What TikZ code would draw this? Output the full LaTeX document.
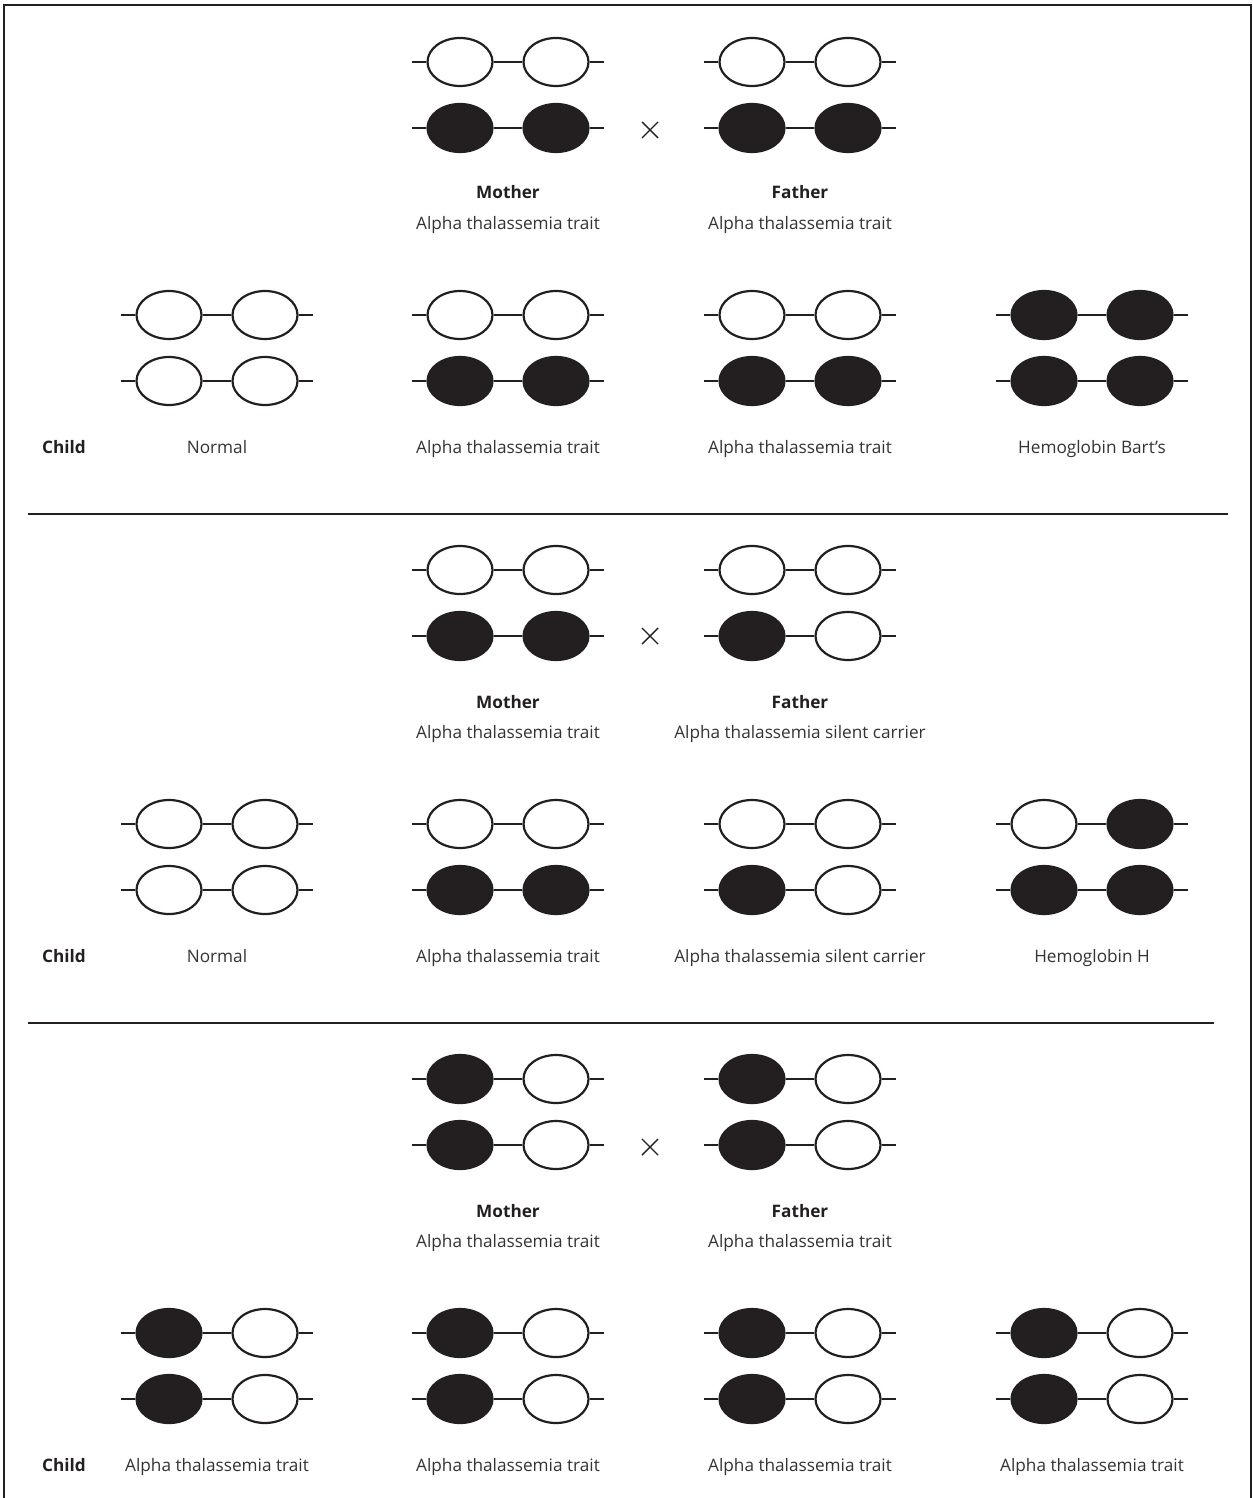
\documentclass[tikz,border=0pt]{standalone}
\usepackage{fontspec}
\setmainfont{Open Sans}
\usetikzlibrary{shapes.geometric}
\definecolor{ink}{HTML}{231F20}
\definecolor{txt}{HTML}{333333}
\tikzset{
  gene/.style={ellipse, draw=ink, line width=1.1pt, minimum width=32.5pt, minimum height=24pt, inner sep=0pt},
  W/.style={gene, fill=white},
  B/.style={gene, fill=ink},
  chrom/.style={draw=ink, line width=1.1pt},
  lbl/.style={anchor=base, text=txt, font=\fontsize{8.6pt}{10pt}\selectfont, inner sep=0pt},
  blbl/.style={lbl, text=ink, font=\fontsize{8.6pt}{10pt}\selectfont\bfseries},
  frame/.style={draw=ink, line width=0.9pt},
  divider/.style={draw=ink, line width=0.9pt},
  cross/.style={draw=ink, line width=0.7pt}
}
% \chromo{name}{cx}{cy}{styleL}{styleR}
\newcommand{\chromo}[5]{%
  \coordinate (#1-l) at (#2-96,#3);
  \coordinate (#1-r) at (#2+96,#3);
  \node[#4] (#1-a) at (#2-48,#3) {};
  \node[#5] (#1-b) at (#2+48,#3) {};
  \draw[chrom] (#1-l) -- (#1-a) -- (#1-b) -- (#1-r);
}
% \geno{name}{cx}{ytop}{L1}{R1}{L2}{R2}
\newcommand{\geno}[7]{%
  \chromo{#1-1}{#2}{#3}{#4}{#5}
  \chromo{#1-2}{#2}{#3+66}{#6}{#7}
}
\begin{document}
\begin{tikzpicture}[x=0.5pt,y=-0.5pt]
\useasboundingbox (0,0) rectangle (1252,1498);
% frame
\coordinate (f1) at (4,1498);
\coordinate (f2) at (4,5);
\coordinate (f3) at (1251,5);
\coordinate (f4) at (1251,1498);
\draw[frame] (f1) -- (f2) -- (f3) -- (f4);
% dividers
\coordinate (d1a) at (28,514);
\coordinate (d1b) at (1228,514);
\draw[divider] (d1a) -- (d1b);
\coordinate (d2a) at (28,1023);
\coordinate (d2b) at (1214,1023);
\draw[divider] (d2a) -- (d2b);

% ===== Section 1 =====
\geno{m1}{508}{62}{W}{W}{B}{B}
\geno{f1g}{800}{62}{W}{W}{B}{B}
\coordinate (x1a) at (642,122); \coordinate (x1b) at (658,138);
\coordinate (x1c) at (642,138); \coordinate (x1d) at (658,122);
\draw[cross] (x1a) -- (x1b); \draw[cross] (x1c) -- (x1d);
\node[blbl] (m1t) at (508,199) {Mother};
\node[lbl] (m1s) at (508,229) {Alpha thalassemia trait};
\node[blbl] (f1t) at (800,199) {Father};
\node[lbl] (f1s) at (800,229) {Alpha thalassemia trait};
\geno{c11}{217}{315}{W}{W}{W}{W}
\geno{c12}{508}{315}{W}{W}{B}{B}
\geno{c13}{800}{315}{W}{W}{B}{B}
\geno{c14}{1092}{315}{B}{B}{B}{B}
\node[blbl] (ch1) at (64,453) {Child};
\node[lbl] (c11t) at (217,453) {Normal};
\node[lbl] (c12t) at (508,453) {Alpha thalassemia trait};
\node[lbl] (c13t) at (800,453) {Alpha thalassemia trait};
\node[lbl] (c14t) at (1092,453) {Hemoglobin Bart’s};

% ===== Section 2 =====
\geno{m2}{508}{570}{W}{W}{B}{B}
\geno{f2g}{800}{570}{W}{W}{B}{W}
\coordinate (x2a) at (642,628); \coordinate (x2b) at (658,644);
\coordinate (x2c) at (642,644); \coordinate (x2d) at (658,628);
\draw[cross] (x2a) -- (x2b); \draw[cross] (x2c) -- (x2d);
\node[blbl] (m2t) at (508,708) {Mother};
\node[lbl] (m2s) at (508,738) {Alpha thalassemia trait};
\node[blbl] (f2t) at (800,708) {Father};
\node[lbl] (f2s) at (800,738) {Alpha thalassemia silent carrier};
\geno{c21}{217}{824}{W}{W}{W}{W}
\geno{c22}{508}{824}{W}{W}{B}{B}
\geno{c23}{800}{824}{W}{W}{B}{W}
\geno{c24}{1092}{824}{W}{B}{B}{B}
\node[blbl] (ch2) at (64,962) {Child};
\node[lbl] (c21t) at (217,962) {Normal};
\node[lbl] (c22t) at (508,962) {Alpha thalassemia trait};
\node[lbl] (c23t) at (800,962) {Alpha thalassemia silent carrier};
\node[lbl] (c24t) at (1092,962) {Hemoglobin H};

% ===== Section 3 =====
\geno{m3}{508}{1079}{B}{W}{B}{W}
\geno{f3g}{800}{1079}{B}{W}{B}{W}
\coordinate (x3a) at (642,1139); \coordinate (x3b) at (658,1155);
\coordinate (x3c) at (642,1155); \coordinate (x3d) at (658,1139);
\draw[cross] (x3a) -- (x3b); \draw[cross] (x3c) -- (x3d);
\node[blbl] (m3t) at (508,1217) {Mother};
\node[lbl] (m3s) at (508,1247) {Alpha thalassemia trait};
\node[blbl] (f3t) at (800,1217) {Father};
\node[lbl] (f3s) at (800,1247) {Alpha thalassemia trait};
\geno{c31}{217}{1333}{B}{W}{B}{W}
\geno{c32}{508}{1333}{B}{W}{B}{W}
\geno{c33}{800}{1333}{B}{W}{B}{W}
\geno{c34}{1092}{1333}{B}{W}{B}{W}
\node[blbl] (ch3) at (64,1471) {Child};
\node[lbl] (c31t) at (217,1471) {Alpha thalassemia trait};
\node[lbl] (c32t) at (508,1471) {Alpha thalassemia trait};
\node[lbl] (c33t) at (800,1471) {Alpha thalassemia trait};
\node[lbl] (c34t) at (1092,1471) {Alpha thalassemia trait};
\end{tikzpicture}
\end{document}
